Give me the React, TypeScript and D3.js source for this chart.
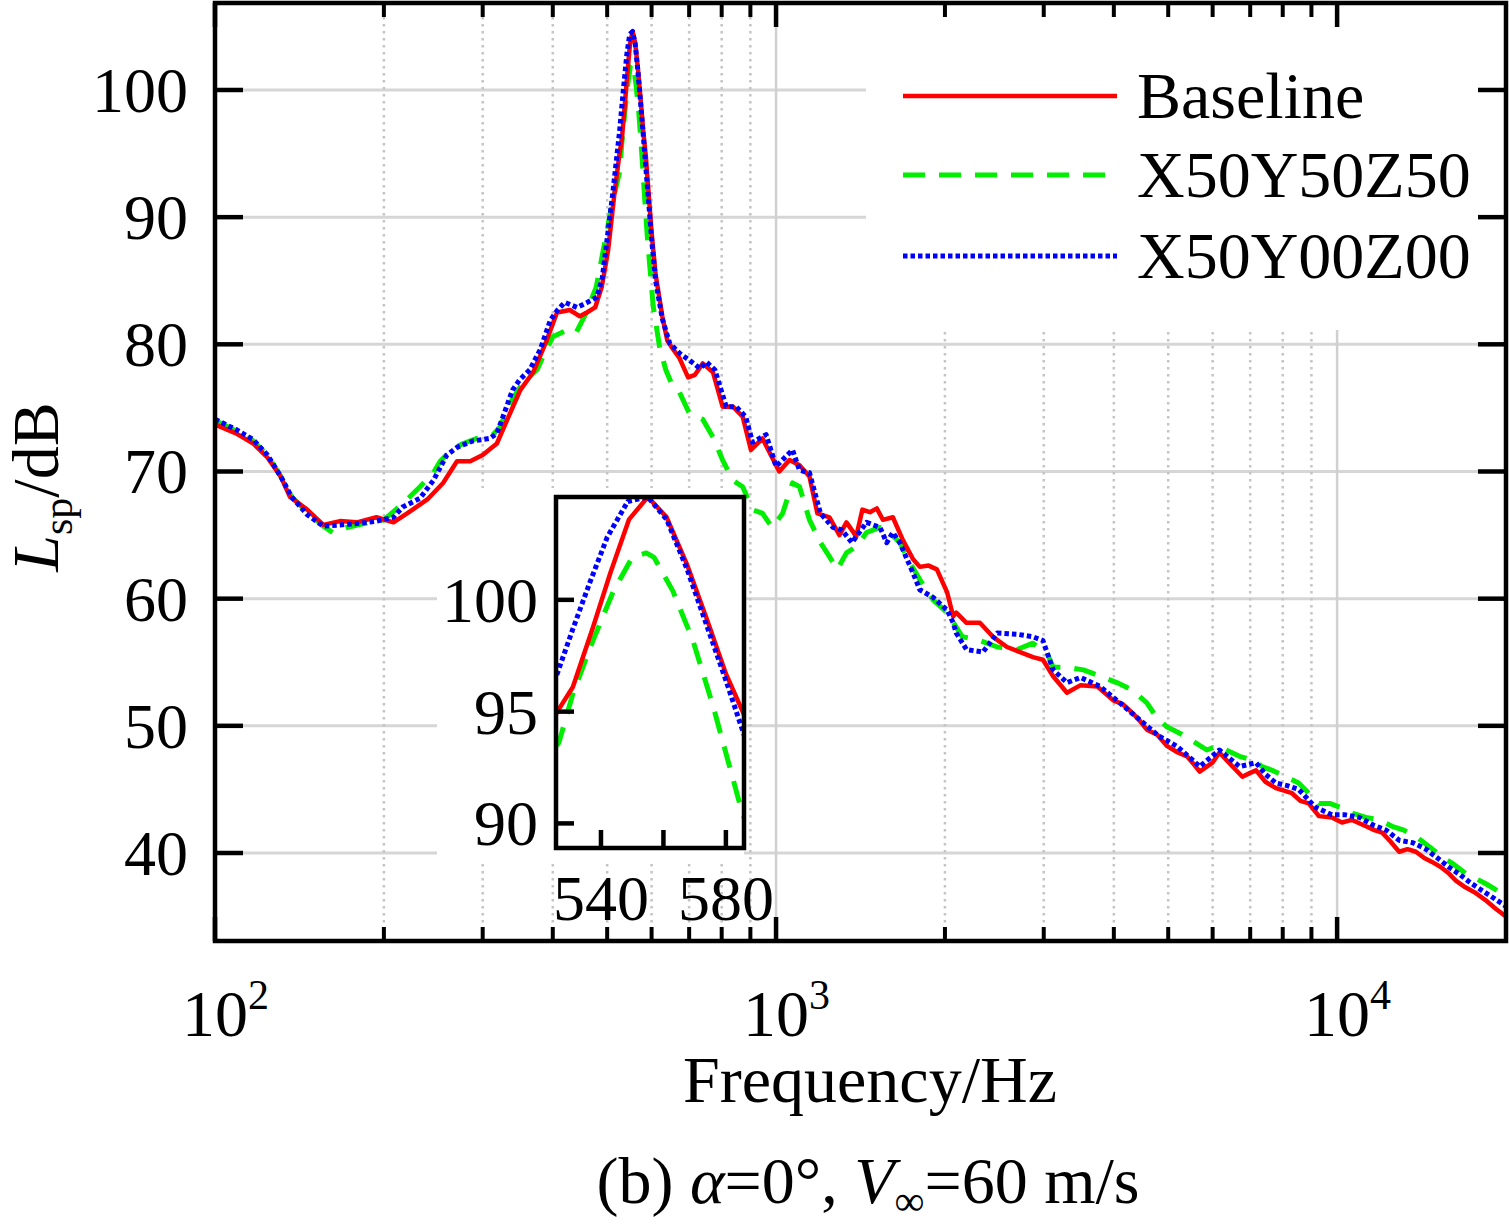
import React from 'react';
import * as d3 from 'd3';

// --- data (frequency in Hz, level in dB) ---
const baseline: [number, number][] = [
  [100, 73.7], [109, 73.0], [117, 72.2], [124, 71.1], [131, 69.6], [136, 68.0], [146, 67.0], [156, 65.8],
  [167, 66.1], [179, 66.0], [194, 66.4], [208, 66.0], [220, 66.7], [239, 67.8], [255, 69.1], [270, 70.8],
  [285, 70.8], [300, 71.3], [318, 72.2], [332, 74.1], [350, 76.4], [369, 77.8], [390, 80.3], [407, 82.5],
  [429, 82.7], [447, 82.2], [460, 82.5], [476, 82.9], [489, 84.5], [502, 87.4], [515, 91.8], [526, 95.0],
  [531, 96.1], [537.5, 98.8], [543, 101.2], [549, 103.6], [555, 104.6], [561, 103.7], [567.5, 101.6],
  [574, 99.1], [580, 96.7], [586, 94.8], [592, 92.2], [600, 88.8], [610, 85.5], [627, 82.2], [640, 80.3],
  [651, 79.8], [673, 78.9], [697, 77.4], [717, 77.6], [740, 78.5], [772, 77.8], [803, 75.1], [838, 75.1],
  [872, 74.3], [902, 71.7], [946, 72.6], [984, 71.1], [1013, 70.0], [1057, 70.9], [1101, 70.5], [1147, 69.6],
  [1185, 66.7], [1245, 66.4], [1297, 65.0], [1335, 66.0], [1390, 64.9], [1425, 67.0], [1470, 66.8],
  [1512, 67.1], [1550, 66.2], [1615, 66.4], [1683, 64.6], [1755, 63.1], [1804, 62.5], [1870, 62.6],
  [1935, 62.3], [2018, 60.5], [2069, 58.6], [2095, 58.9], [2185, 58.1], [2308, 58.1], [2436, 57.0],
  [2580, 56.2], [2723, 55.8], [2870, 55.4], [2990, 55.2], [3118, 53.9], [3300, 52.6], [3490, 53.2],
  [3735, 53.1], [3990, 52.0], [4150, 51.7], [4320, 51.0], [4450, 50.4], [4580, 49.7], [4780, 49.3],
  [4980, 48.4], [5200, 47.9], [5400, 47.6], [5550, 47.0], [5690, 46.4], [5995, 47.1], [6170, 47.9],
  [6510, 46.8], [6780, 46.0], [7000, 46.3], [7170, 46.5], [7450, 45.6], [7780, 45.1], [8310, 44.7],
  [8600, 44.1], [8900, 43.9], [9280, 42.9], [9790, 42.8], [10200, 42.4], [10630, 42.6], [11260, 42.1],
  [11650, 41.8], [12030, 41.6], [12450, 40.9], [12900, 40.1], [13350, 40.3], [13820, 40.1], [14300, 39.6],
  [14760, 39.3], [15300, 38.9], [15810, 38.4], [16300, 37.8], [16930, 37.3], [17600, 36.9], [18380, 36.3],
  [19200, 35.6], [20000, 35.0],
];

const x50y50z50: [number, number][] = [
  [100, 74.0], [109, 73.2], [117, 72.4], [124, 71.3], [131, 69.6], [137, 68.0], [146, 66.8], [156, 65.7],
  [162, 65.2], [172, 65.6], [180, 65.8], [189, 66.0], [200, 66.2], [210, 67.0], [220, 67.8], [232, 68.8],
  [245, 69.9], [252, 70.8], [265, 71.8], [277, 72.2], [293, 72.6], [313, 72.9], [322, 73.5], [336, 75.4],
  [354, 77.0], [375, 78.0], [384, 79.0], [400, 80.6], [423, 81.1], [440, 80.9], [459, 82.5], [478, 84.5],
  [499, 88.8], [510, 91.0], [526.5, 93.6], [531, 95.8], [537.5, 98.2], [544, 100.4], [550, 101.9],
  [554.5, 102.1], [557, 101.9], [563, 100.4], [569.4, 98.2], [576, 95.2], [584, 91.1], [590, 88.3],
  [604, 83.0], [620, 79.8], [636, 78.0], [650, 77.0], [670, 76.4], [700, 74.6], [740, 74.1], [772, 72.7],
  [803, 70.9], [838, 69.3], [872, 68.8], [908, 67.0], [946, 66.7], [984, 65.6], [1027, 66.7], [1070, 69.1],
  [1101, 68.8], [1147, 66.2], [1200, 64.4], [1245, 63.3], [1286, 62.3], [1335, 63.6], [1390, 64.1],
  [1450, 65.2], [1532, 65.6], [1595, 65.2], [1662, 64.4], [1734, 62.8], [1804, 61.5], [1905, 59.9],
  [2018, 58.9], [2148, 57.0], [2279, 56.8], [2480, 56.2], [2690, 56.0], [2870, 56.5], [3043, 55.7],
  [3118, 54.6], [3300, 54.6], [3531, 54.4], [3780, 53.9], [4050, 53.4], [4320, 52.8], [4580, 51.8],
  [4780, 50.6], [4980, 49.9], [5200, 49.5], [5400, 49.1], [5860, 48.1], [6100, 48.4], [6340, 48.1],
  [6700, 47.6], [7070, 47.3], [7350, 46.8], [7660, 46.5], [8100, 46.0], [8540, 45.5], [8900, 44.7],
  [9280, 43.9], [9700, 43.9], [10120, 43.6], [10700, 43.1], [11260, 42.8], [11900, 42.6], [12530, 42.1],
  [13150, 41.8], [13820, 41.3], [14600, 40.5], [15390, 39.7], [16150, 39.1], [16930, 38.4], [17650, 38.0],
  [18380, 37.6], [19200, 37.1], [20000, 36.6],
];

const x50y00z00: [number, number][] = [
  [100, 74.1], [109, 73.3], [117, 72.5], [124, 71.3], [131, 69.6], [137, 68.0], [146, 66.6], [156, 65.7],
  [167, 65.8], [179, 65.9], [194, 66.1], [208, 66.4], [216, 67.2], [232, 67.9], [245, 69.3], [259, 71.3],
  [270, 71.9], [288, 72.4], [309, 72.6], [318, 73.0], [326, 74.3], [339, 76.4], [349, 77.2], [364, 78.0],
  [380, 79.6], [396, 81.9], [408, 82.7], [420, 83.3], [442, 82.9], [461, 83.3], [479, 83.7], [490, 85.2],
  [499, 88.0], [512, 92.0], [526, 96.7], [531, 98.7], [536.5, 100.8], [542, 102.8], [548.6, 104.4],
  [555, 104.6], [561, 103.6], [567.5, 101.4], [574, 98.8], [580, 96.4], [585, 94.3], [592, 91.5],
  [600, 88.3], [610, 85.0], [627, 82.0], [646, 80.1], [673, 79.3], [708, 78.6], [732, 78.1], [752, 78.6],
  [778, 78.0], [815, 75.1], [849, 75.1], [883, 74.3], [908, 72.3], [960, 72.9], [1000, 70.4], [1070, 71.7],
  [1101, 70.1], [1147, 69.9], [1200, 66.7], [1263, 65.6], [1310, 65.4], [1365, 64.4], [1450, 66.0],
  [1532, 65.6], [1575, 64.4], [1615, 65.2], [1662, 64.4], [1755, 62.0], [1804, 60.7], [1905, 60.1],
  [2018, 59.1], [2069, 58.1], [2095, 57.3], [2185, 56.0], [2337, 55.8], [2480, 57.3], [2690, 57.2],
  [2870, 57.0], [2990, 56.7], [3118, 54.4], [3300, 53.4], [3490, 53.8], [3780, 53.1], [4100, 51.8],
  [4440, 50.5], [4810, 49.2], [5180, 48.4], [5530, 47.3], [5690, 46.8], [6170, 48.1], [6450, 47.4],
  [6700, 46.8], [7170, 47.1], [7450, 46.2], [7780, 45.5], [8150, 45.3], [8540, 45.0], [9150, 43.6],
  [9790, 43.0], [10350, 43.0], [10950, 42.8], [11600, 42.2], [12230, 41.8], [12900, 41.0], [13650, 40.8],
  [14400, 40.3], [15100, 39.6], [15810, 38.9], [16550, 38.3], [17360, 37.6], [18200, 37.0], [19100, 36.4],
  [20000, 35.8],
];

const majorFreqs = [100, 1000, 10000];
const minorFreqs = [200, 300, 400, 500, 600, 700, 800, 900, 2000, 3000, 4000, 5000, 6000, 7000, 8000, 9000];
const yTicks = [40, 50, 60, 70, 80, 90, 100];
const insetXTicks = [540, 560, 580];
const insetXLabels = [540, 580];
const insetYTicks = [90, 95, 100];

const seriesNames = ['Baseline', 'X50Y50Z50', 'X50Y00Z00'];
const seriesData = [baseline, x50y50z50, x50y00z00];
const seriesColors = ['#ff0000', '#00ee00', '#0000ff'];
const seriesDash = ['none', '22 14', '4.5 3'];
const seriesWidth = [4.5, 5, 5];
const drawOrder = [1, 0, 2];

const FONT = "'Liberation Serif', 'Times New Roman', serif";
const W = 1509;
const H = 1229;
const P = { left: 215, right: 1506, top: 3, bottom: 941 };
const I = { left: 556, right: 744, top: 497, bottom: 848 };

export default function App() {
  const x = d3.scaleLog().domain([100, 20000]).range([P.left, P.right]);
  const y = d3.scaleLinear().domain([33.08, 106.84]).range([P.bottom, P.top]);
  const ix = d3.scaleLinear().domain([525.6, 585.8]).range([I.left, I.right]);
  const iy = d3.scaleLinear().domain([88.9, 104.6]).range([I.bottom, I.top]);

  const line = d3.line<[number, number]>().x(d => x(d[0])).y(d => y(d[1]));
  const iline = d3.line<[number, number]>().x(d => ix(d[0])).y(d => iy(d[1]));

  const legendY = [96, 175, 256];

  return (
    <svg width={W} height={H} style={{ position: 'absolute', left: 0, top: 0, background: '#fff' }}
      fontFamily={FONT}>
      <defs>
        <clipPath id="mainClip">
          <rect x={P.left} y={P.top} width={P.right - P.left} height={P.bottom - P.top} />
        </clipPath>
        <clipPath id="insetClip">
          <rect x={I.left} y={I.top} width={I.right - I.left} height={I.bottom - I.top} />
        </clipPath>
      </defs>
      <rect x={0} y={0} width={W} height={H} fill="#fff" />

      {/* grid */}
      {yTicks.map(t => (
        <line key={'gy' + t} x1={P.left} x2={P.right} y1={y(t)} y2={y(t)} stroke="#d6d6d6" strokeWidth={3} />
      ))}
      {minorFreqs.map(f => (
        <line key={'gx' + f} x1={x(f)} x2={x(f)} y1={P.top} y2={P.bottom} stroke="#c4c4c4"
          strokeWidth={2.5} strokeDasharray="2.5 4.5" />
      ))}
      {majorFreqs.slice(1).map(f => (
        <line key={'gX' + f} x1={x(f)} x2={x(f)} y1={P.top} y2={P.bottom} stroke="#d0d0d0" strokeWidth={2.5} />
      ))}

      {/* white panels behind legend and inset */}
      <rect x={866} y={P.top} width={P.right - 866} height={330 - P.top} fill="#fff" />
      <rect x={437} y={488} width={I.right - 437} height={862 - 488} fill="#fff" />

      {/* curves */}
      <g clipPath="url(#mainClip)">
        {drawOrder.map(i => (
          <path key={'s' + i} d={line(seriesData[i]) || ''}
            fill="none" stroke={seriesColors[i]} strokeWidth={seriesWidth[i]}
            strokeDasharray={seriesDash[i]} strokeLinejoin="round" />
        ))}
      </g>

      {/* main axes frame */}
      <rect x={P.left} y={P.top} width={P.right - P.left} height={P.bottom - P.top} fill="none"
        stroke="#000" strokeWidth={4.5} />
      {yTicks.map(t => (
        <g key={'ty' + t}>
          <line x1={P.left} x2={P.left + 28} y1={y(t)} y2={y(t)} stroke="#000" strokeWidth={4.5} />
          <line x1={P.right} x2={P.right - 28} y1={y(t)} y2={y(t)} stroke="#000" strokeWidth={4.5} />
          <text x={188} y={y(t) + 22} textAnchor="end" fontSize={64}>{t}</text>
        </g>
      ))}
      {majorFreqs.map(f => (
        <g key={'tX' + f}>
          <line x1={x(f)} x2={x(f)} y1={P.bottom} y2={P.bottom - 24} stroke="#000" strokeWidth={4.5} />
          <line x1={x(f)} x2={x(f)} y1={P.top} y2={P.top + 24} stroke="#000" strokeWidth={4.5} />
          <text x={x(f) - 33} y={1036} fontSize={66}>
            10<tspan fontSize={42} dy={-27}>{Math.round(Math.log10(f))}</tspan>
          </text>
        </g>
      ))}
      {minorFreqs.map(f => (
        <g key={'tx' + f}>
          <line x1={x(f)} x2={x(f)} y1={P.bottom} y2={P.bottom - 14} stroke="#000" strokeWidth={4} />
          <line x1={x(f)} x2={x(f)} y1={P.top} y2={P.top + 14} stroke="#000" strokeWidth={4} />
        </g>
      ))}

      {/* axis titles */}
      <text x={870} y={1102} textAnchor="middle" fontSize={66}>Frequency/Hz</text>
      <text transform="translate(58,487) rotate(-90)" textAnchor="middle" fontSize={66}>
        <tspan fontStyle="italic">L</tspan>
        <tspan fontSize={42} dy={14}>sp</tspan>
        <tspan dy={-14}>/dB</tspan>
      </text>
      <text x={868} y={1203} textAnchor="middle" fontSize={66}>
        {'(b) '}<tspan fontStyle="italic">α</tspan>{'=0°, '}<tspan fontStyle="italic">V</tspan>
        <tspan fontSize={42} dy={12}>∞</tspan><tspan dy={-12}>=60 m/s</tspan>
      </text>

      {/* legend */}
      {seriesNames.map((n, i) => (
        <g key={'lg' + i}>
          <line x1={903} x2={1117} y1={legendY[i]} y2={legendY[i]} stroke={seriesColors[i]}
            strokeWidth={seriesWidth[i]} strokeDasharray={seriesDash[i]} />
          <text x={1137} y={legendY[i] + 22} fontSize={66}>{n}</text>
        </g>
      ))}

      {/* inset */}
      <rect x={I.left} y={I.top} width={I.right - I.left} height={I.bottom - I.top} fill="#fff" />
      <g clipPath="url(#insetClip)">
        {drawOrder.map(i => (
          <path key={'is' + i} d={iline(seriesData[i].filter(d => d[0] > 500 && d[0] < 615)) || ''}
            fill="none" stroke={seriesColors[i]} strokeWidth={seriesWidth[i]}
            strokeDasharray={seriesDash[i]} strokeLinejoin="round" />
        ))}
      </g>
      <rect x={I.left} y={I.top} width={I.right - I.left} height={I.bottom - I.top} fill="none"
        stroke="#000" strokeWidth={4.5} />
      {insetYTicks.map(t => (
        <g key={'iy' + t}>
          <line x1={I.left} x2={I.left + 18} y1={iy(t)} y2={iy(t)} stroke="#000" strokeWidth={4.5} />
          <text x={538} y={iy(t) + 22} textAnchor="end" fontSize={64}>{t}</text>
        </g>
      ))}
      {insetXTicks.map(t => (
        <line key={'ix' + t} x1={ix(t)} x2={ix(t)} y1={I.bottom} y2={I.bottom - 18} stroke="#000" strokeWidth={4.5} />
      ))}
      {insetXLabels.map(t => (
        <text key={'ixl' + t} x={ix(t)} y={920} textAnchor="middle" fontSize={64}>{t}</text>
      ))}
    </svg>
  );
}
